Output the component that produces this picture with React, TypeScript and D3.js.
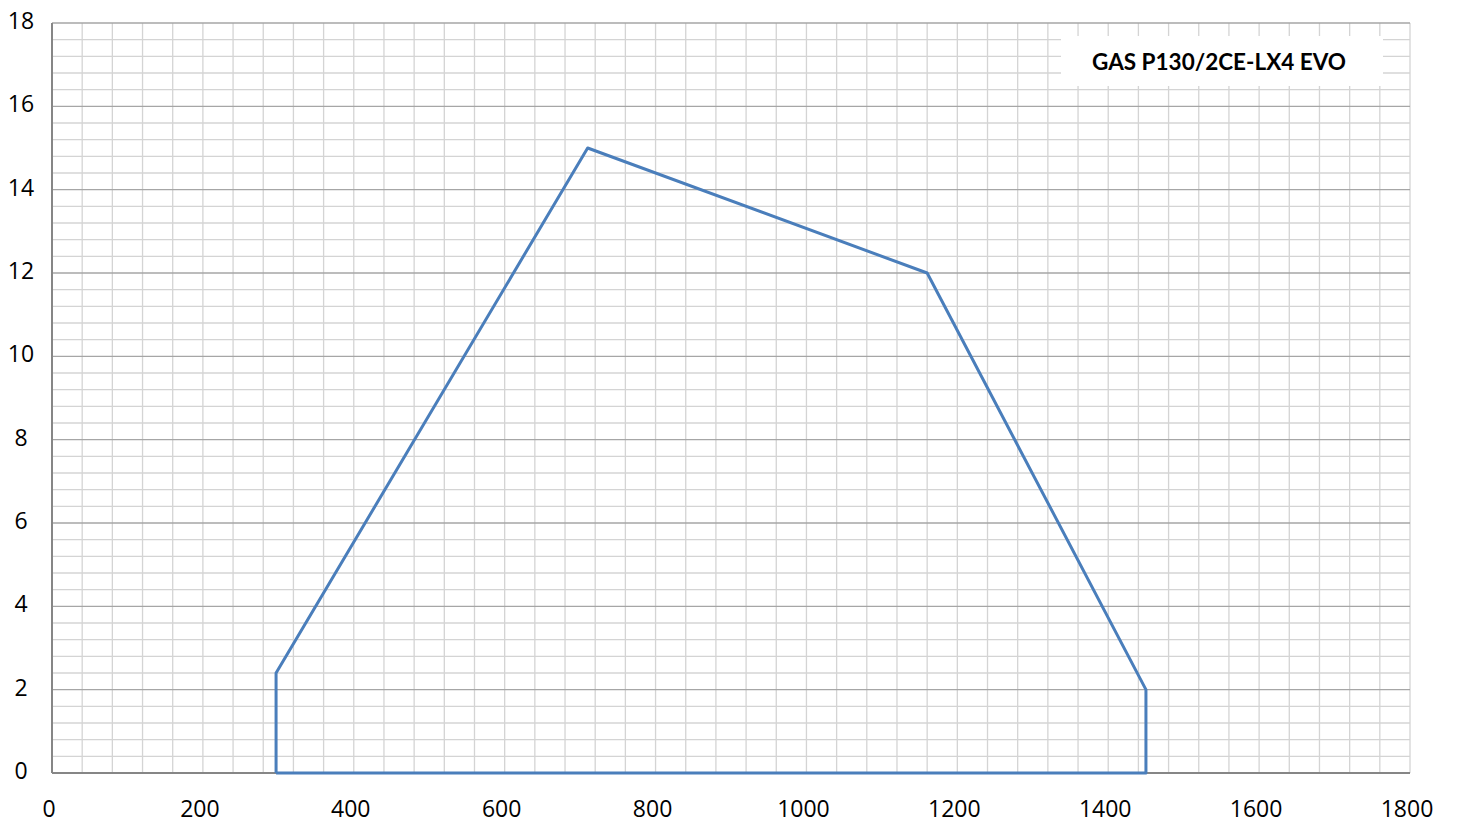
import { useEffect, useRef } from 'react'
import * as d3 from 'd3'

// envelope of the burner working field (flow vs pressure)
const flowValues = [297, 297, 710, 1160, 1450, 1450, 297]
const pressureValues = [0, 2.4, 15, 12, 2, 0, 0]
const xTickLabels = [0, 200, 400, 600, 800, 1000, 1200, 1400, 1600, 1800]
const yTickLabels = [0, 2, 4, 6, 8, 10, 12, 14, 16, 18]
const chartTitle = 'GAS P130/2CE-LX4 EVO'

const W = 1459
const H = 825

export default function App() {
  const svgRef = useRef<SVGSVGElement | null>(null)

  useEffect(() => {
    const margin = { top: 23, right: 49, bottom: 52, left: 52 }
    const innerW = W - margin.left - margin.right
    const innerH = H - margin.top - margin.bottom

    const svg = d3.select(svgRef.current)
    svg.selectAll('*').remove()
    svg.attr('viewBox', `0 0 ${W} ${H}`)

    const x = d3.scaleLinear().domain([0, 1800]).range([0, innerW])
    const y = d3.scaleLinear().domain([0, 18]).range([innerH, 0])

    const g = svg.append('g').attr('transform', `translate(${margin.left},${margin.top})`)

    // ================= GRID =================
    const xMinor = d3.range(40, 1800 + 1, 40)
    g.selectAll('.vgrid')
      .data(xMinor)
      .join('line')
      .attr('class', 'vgrid')
      .attr('x1', (d) => x(d))
      .attr('x2', (d) => x(d))
      .attr('y1', 0)
      .attr('y2', innerH)
      .attr('stroke', '#d4d4d4')
      .attr('stroke-width', 1.3)

    const yMinor = d3.range(0.4, 18, 0.4).filter((d) => Math.abs(d / 2 - Math.round(d / 2)) > 0.01)
    g.selectAll('.hgrid-minor')
      .data(yMinor)
      .join('line')
      .attr('class', 'hgrid-minor')
      .attr('x1', 0)
      .attr('x2', innerW)
      .attr('y1', (d) => y(d))
      .attr('y2', (d) => y(d))
      .attr('stroke', '#d4d4d4')
      .attr('stroke-width', 1.3)

    g.selectAll('.hgrid-major')
      .data(yTickLabels.filter((d) => d > 0))
      .join('line')
      .attr('class', 'hgrid-major')
      .attr('x1', 0)
      .attr('x2', innerW)
      .attr('y1', (d) => y(d))
      .attr('y2', (d) => y(d))
      .attr('stroke', '#a6a6a6')
      .attr('stroke-width', 1.3)

    // ================= TITLE BOX =================
    svg.append('rect')
      .attr('x', 1061)
      .attr('y', 36)
      .attr('width', 322)
      .attr('height', 50)
      .attr('fill', '#ffffff')

    svg.append('text')
      .attr('x', 1219)
      .attr('y', 70)
      .attr('text-anchor', 'middle')
      .attr('font-family', 'Lato, sans-serif')
      .attr('font-weight', 700)
      .attr('font-size', 22.5)
      .attr('fill', '#000')
      .text(chartTitle)

    // ================= AXES =================
    g.append('line')
      .attr('x1', 0).attr('x2', 0)
      .attr('y1', 0).attr('y2', innerH)
      .attr('stroke', '#868686').attr('stroke-width', 2)
    g.append('line')
      .attr('x1', 0).attr('x2', innerW)
      .attr('y1', innerH).attr('y2', innerH)
      .attr('stroke', '#868686').attr('stroke-width', 2)

    g.selectAll('.xlab')
      .data(xTickLabels)
      .join('text')
      .attr('class', 'xlab')
      .attr('x', (d) => x(d) - 3)
      .attr('y', innerH + 44)
      .attr('text-anchor', 'middle')
      .attr('font-family', '"Open Sans", sans-serif')
      .attr('font-size', 23)
      .attr('fill', '#000')
      .text((d) => d)

    g.selectAll('.ylab')
      .data(yTickLabels)
      .join('text')
      .attr('class', 'ylab')
      .attr('x', 21 - margin.left)
      .attr('y', (d) => y(d) - 2)
      .attr('dy', '0.35em')
      .attr('text-anchor', 'middle')
      .attr('font-family', '"Open Sans", sans-serif')
      .attr('font-size', 23)
      .attr('fill', '#000')
      .text((d) => d)

    // ================= ENVELOPE =================
    const pts = flowValues.map((f, i) => [f, pressureValues[i]] as [number, number])
    const line = d3
      .line<[number, number]>()
      .x((d) => x(d[0]))
      .y((d) => y(d[1]))

    g.append('path')
      .datum(pts)
      .attr('fill', 'none')
      .attr('stroke', '#4a7ebb')
      .attr('stroke-width', 3)
      .attr('stroke-linejoin', 'round')
      .attr('d', line)
  }, [])

  return (
    <svg
      ref={svgRef}
      width={W}
      height={H}
      style={{ position: 'absolute', left: 0, top: 0, background: '#fff' }}
    />
  )
}
